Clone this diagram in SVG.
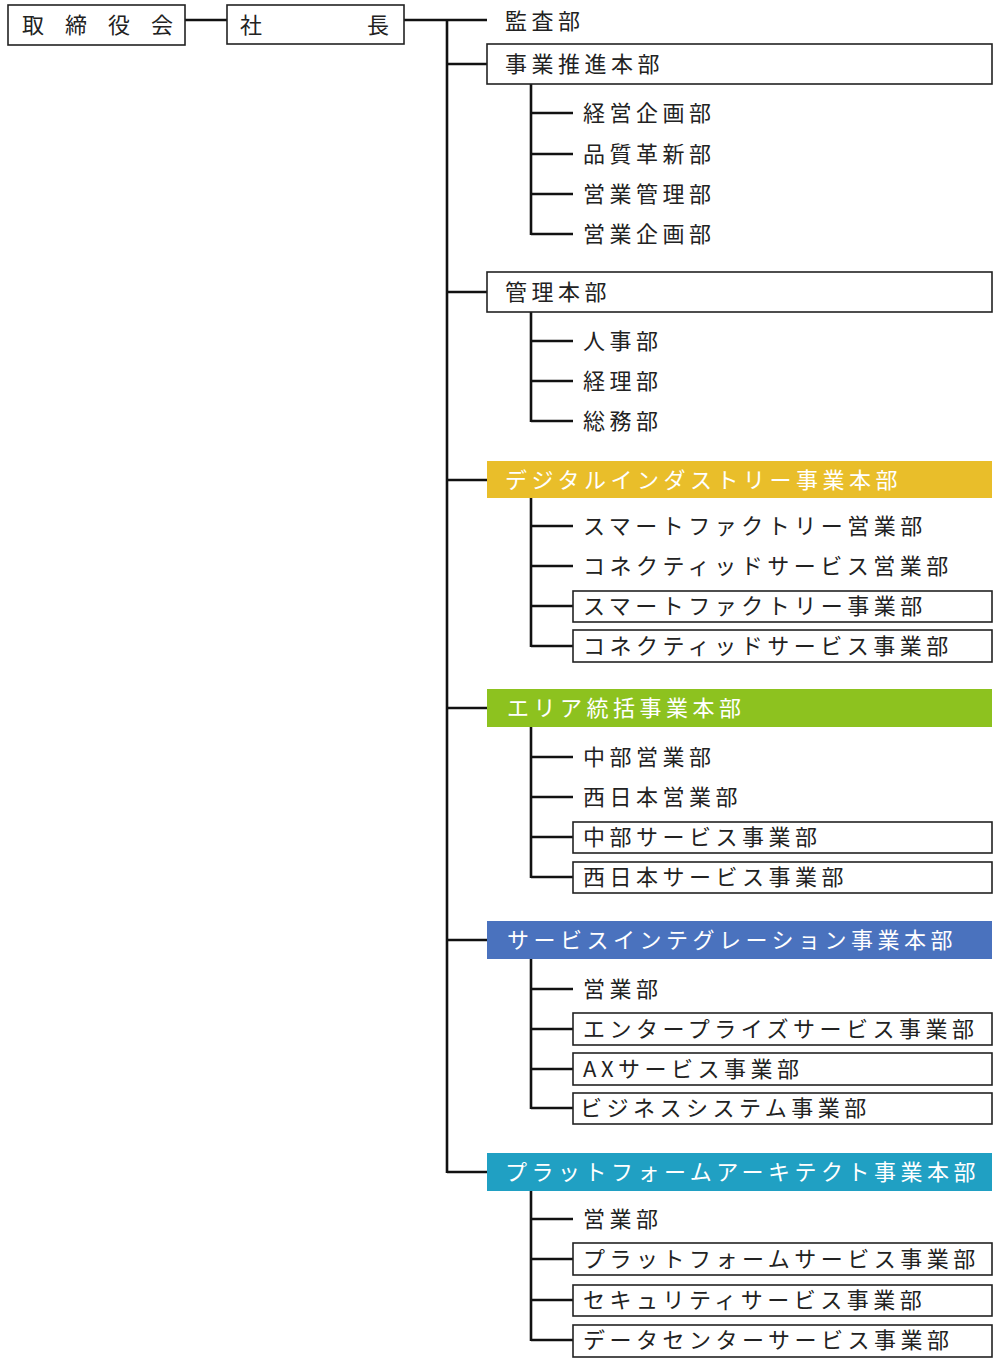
<svg xmlns="http://www.w3.org/2000/svg" width="1000" height="1366" viewBox="0 0 1000 1366">
<style>
text{font-family:"Noto Sans CJK JP","Noto Sans",sans-serif;font-size:22px;fill:#222;letter-spacing:4.5px}
.w{fill:#fff}
.b{fill:#fff;stroke:#222;stroke-width:1.6}
line{stroke:#111;stroke-width:2.6}
</style>
<rect width="1000" height="1366" fill="#fff"/>
<g id="connectors">
<line x1="185" y1="20" x2="227" y2="20"/>
<line x1="404" y1="20" x2="487" y2="20"/>
<line x1="447" y1="20" x2="447" y2="1173"/>
<line x1="447" y1="64" x2="487" y2="64"/>
<line x1="447" y1="292" x2="487" y2="292"/>
<line x1="447" y1="480" x2="487" y2="480"/>
<line x1="447" y1="708" x2="487" y2="708"/>
<line x1="447" y1="940" x2="487" y2="940"/>
<line x1="447" y1="1172" x2="487" y2="1172"/>
<line x1="531" y1="84" x2="531" y2="235"/>
<line x1="531" y1="113" x2="573" y2="113"/><line x1="531" y1="154" x2="573" y2="154"/><line x1="531" y1="194" x2="573" y2="194"/><line x1="531" y1="234" x2="573" y2="234"/>
<line x1="531" y1="312" x2="531" y2="422"/>
<line x1="531" y1="341" x2="573" y2="341"/><line x1="531" y1="381" x2="573" y2="381"/><line x1="531" y1="421" x2="573" y2="421"/>
<line x1="531" y1="498" x2="531" y2="647"/>
<line x1="531" y1="526" x2="573" y2="526"/><line x1="531" y1="566" x2="573" y2="566"/><line x1="531" y1="606" x2="573" y2="606"/><line x1="531" y1="646" x2="573" y2="646"/>
<line x1="531" y1="727" x2="531" y2="878"/>
<line x1="531" y1="757" x2="573" y2="757"/><line x1="531" y1="797" x2="573" y2="797"/><line x1="531" y1="837" x2="573" y2="837"/><line x1="531" y1="877" x2="573" y2="877"/>
<line x1="531" y1="959" x2="531" y2="1109"/>
<line x1="531" y1="989" x2="573" y2="989"/><line x1="531" y1="1029" x2="573" y2="1029"/><line x1="531" y1="1069" x2="573" y2="1069"/><line x1="531" y1="1108" x2="573" y2="1108"/>
<line x1="531" y1="1191" x2="531" y2="1341"/>
<line x1="531" y1="1219" x2="573" y2="1219"/><line x1="531" y1="1259" x2="573" y2="1259"/><line x1="531" y1="1300" x2="573" y2="1300"/><line x1="531" y1="1340" x2="573" y2="1340"/>
</g>
<g id="board"><rect class="b" x="8" y="5" width="177" height="40"/><text x="22" y="33" style="letter-spacing:21px">取締役会</text></g>
<g id="president"><rect class="b" x="227" y="5" width="177" height="39"/><text x="240" y="33">社</text><text x="367" y="33">長</text></g>
<g id="audit"><text x="505" y="29">監査部</text></g>
<g id="hq1"><rect class="b" x="487" y="44" width="505" height="40"/><text x="505" y="72">事業推進本部</text></g>
<g id="d1"><text x="583" y="121">経営企画部</text></g>
<g id="d2"><text x="583" y="162">品質革新部</text></g>
<g id="d3"><text x="583" y="202">営業管理部</text></g>
<g id="d4"><text x="583" y="242">営業企画部</text></g>
<g id="hq2"><rect class="b" x="487" y="272" width="505" height="40"/><text x="505" y="300">管理本部</text></g>
<g id="d5"><text x="583" y="349">人事部</text></g>
<g id="d6"><text x="583" y="389">経理部</text></g>
<g id="d7"><text x="583" y="429">総務部</text></g>
<g id="hq3"><rect x="487" y="461" width="505" height="37" fill="#E9BE2A"/><text class="w" x="505" y="488">デジタルインダストリー事業本部</text></g>
<g id="d8"><text x="583" y="534">スマートファクトリー営業部</text></g>
<g id="d9"><text x="583" y="574">コネクティッドサービス営業部</text></g>
<g id="d10"><rect class="b" x="573" y="591" width="419" height="31"/><text x="583" y="614">スマートファクトリー事業部</text></g>
<g id="d11"><rect class="b" x="573" y="630" width="419" height="32"/><text x="583" y="654">コネクティッドサービス事業部</text></g>
<g id="hq4"><rect x="487" y="689" width="505" height="38" fill="#8DC21F"/><text class="w" x="507" y="716">エリア統括事業本部</text></g>
<g id="d12"><text x="583" y="765">中部営業部</text></g>
<g id="d13"><text x="583" y="805">西日本営業部</text></g>
<g id="d14"><rect class="b" x="573" y="822" width="419" height="31"/><text x="583" y="845">中部サービス事業部</text></g>
<g id="d15"><rect class="b" x="573" y="862" width="419" height="31"/><text x="583" y="885">西日本サービス事業部</text></g>
<g id="hq5"><rect x="487" y="921" width="505" height="38" fill="#4A72BE"/><text class="w" x="507" y="948">サービスインテグレーション事業本部</text></g>
<g id="d16"><text x="583" y="997">営業部</text></g>
<g id="d17"><rect class="b" x="573" y="1013" width="419" height="32"/><text x="583" y="1037">エンタープライズサービス事業部</text></g>
<g id="d18"><rect class="b" x="573" y="1053" width="419" height="32"/><text x="583" y="1077">AXサービス事業部</text></g>
<g id="d19"><rect class="b" x="573" y="1093" width="419" height="31"/><text x="580" y="1116">ビジネスシステム事業部</text></g>
<g id="hq6"><rect x="487" y="1153" width="505" height="38" fill="#20A0C3"/><text class="w" x="505" y="1180">プラットフォームアーキテクト事業本部</text></g>
<g id="d20"><text x="583" y="1227">営業部</text></g>
<g id="d21"><rect class="b" x="573" y="1243" width="419" height="32"/><text x="583" y="1267">プラットフォームサービス事業部</text></g>
<g id="d22"><rect class="b" x="573" y="1285" width="419" height="31"/><text x="583" y="1308">セキュリティサービス事業部</text></g>
<g id="d23"><rect class="b" x="573" y="1325" width="419" height="32"/><text x="583" y="1348">データセンターサービス事業部</text></g>
</svg>
